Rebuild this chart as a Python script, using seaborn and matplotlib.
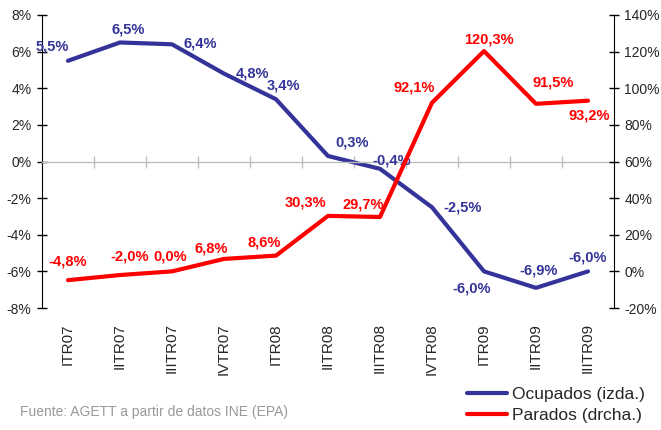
import numpy as np
import pandas as pd
import matplotlib

matplotlib.use("Agg")
import matplotlib.pyplot as plt
import matplotlib.ticker as mticker
import seaborn as sns

periodos = ["ITR07", "IITR07", "IIITR07", "IVTR07", "ITR08", "IITR08",
            "IIITR08", "IVTR08", "ITR09", "IITR09", "IIITR09"]
ocupados = [5.5, 6.5, 6.4, 4.8, 3.4, 0.3, -0.4, -2.5, -6.0, -6.9, -6.0]
parados = [-4.8, -2.0, 0.0, 6.8, 8.6, 30.3, 29.7, 92.1, 120.3, 91.5, 93.2]

# label offsets in pixels (dx, dy) relative to each point
off_ocupados = [(-16, 14), (8, 13), (28, 1), (28, 0), (7, 14), (24, 14),
                (12, 8), (31, 0), (-12, -17), (3, 17), (0, 14)]
off_parados = [(0, 19), (10, 19), (-2, 15), (-13, 10), (-12, 13), (-22, 13),
               (-17, 12), (-18, 15), (5, 12), (17, 21), (1, -15)]

AZUL = "#333399"
ROJO = "#FF0000"
GRIS = "#BFBFBF"

sns.set_style("white")
plt.rcParams["font.family"] = ["Liberation Sans", "DejaVu Sans"]

df = pd.DataFrame({"pos": np.arange(len(periodos)), "periodo": periodos,
                   "Ocupados": ocupados, "Parados": parados})

fig = plt.figure(figsize=(6.61, 4.30), dpi=100)
ax = fig.add_axes([42 / 661, 1 - 308 / 430, (614 - 42) / 661, (308 - 15) / 430])
ax2 = ax.twinx()

sns.lineplot(data=df, x="pos", y="Ocupados", ax=ax, color=AZUL, linewidth=3,
             label="Ocupados (izda.)", legend=False)
sns.lineplot(data=df, x="pos", y="Parados", ax=ax2, color=ROJO, linewidth=3,
             label="Parados (drcha.)", legend=False)

ax.set_xlim(-0.5, len(periodos) - 0.5)
ax.set_ylim(-8, 8)
ax2.set_ylim(-20, 140)
ax.set_yticks(np.arange(-8, 9, 2))
ax2.set_yticks(np.arange(-20, 141, 20))
ax.yaxis.set_major_formatter(mticker.FuncFormatter(lambda v, p: f"{v:.0f}%"))
ax2.yaxis.set_major_formatter(mticker.FuncFormatter(lambda v, p: f"{v:.0f}%"))
ax.set_xlabel("")
ax.set_ylabel("")
ax2.set_ylabel("")

for s in ["top", "right"]:
    ax.spines[s].set_visible(False)
for s in ["top", "bottom", "left"]:
    ax2.spines[s].set_visible(False)
ax.spines["left"].set_color("black")
ax2.spines["right"].set_color("black")
ax.spines["bottom"].set_position(("data", 0))
ax.spines["bottom"].set_color(GRIS)
ax.spines["bottom"].set_linewidth(1)

ax.tick_params(axis="y", direction="inout", length=7, width=1, color="black",
               labelsize=10, pad=4, left=True)
ax2.tick_params(axis="y", direction="inout", length=7, width=1, color="black",
                labelsize=10, pad=4, right=True)

ax.set_xticks(np.arange(len(periodos)))
ax.set_xticks(np.arange(len(periodos) - 1) + 0.5, minor=True)
ax.tick_params(axis="x", which="major", length=0, labelbottom=False)
ax.tick_params(axis="x", which="minor", direction="inout", length=9, width=1,
               color=GRIS, bottom=True)

sec = ax.secondary_xaxis("bottom")
sec.set_xticks(np.arange(len(periodos)))
sec.set_xticklabels(periodos, rotation=90, fontsize=11, va="top")
sec.tick_params(length=0, pad=11)
sec.spines["bottom"].set_visible(False)

def fmt(v):
    return f"{v:.1f}%".replace(".", ",")

for x, v, (dx, dy) in zip(df["pos"], ocupados, off_ocupados):
    ax.annotate(fmt(v), (x, v), xytext=(dx, dy), textcoords="offset pixels",
                ha="center", va="center", color=AZUL, fontsize=10.5,
                fontweight="bold")
for x, v, (dx, dy) in zip(df["pos"], parados, off_parados):
    ax2.annotate(fmt(v), (x, v), xytext=(dx, dy), textcoords="offset pixels",
                 ha="center", va="center", color=ROJO, fontsize=10.5,
                 fontweight="bold")

h1, l1 = ax.get_legend_handles_labels()
h2, l2 = ax2.get_legend_handles_labels()
fig.legend(h1 + h2, l1 + l2, loc="upper left", bbox_to_anchor=(467 / 661, 1 - 387 / 430),
           frameon=False, fontsize=12.5, handlelength=2.3, handletextpad=0.3,
           labelspacing=0.35, borderpad=0, borderaxespad=0)

fig.text(20 / 661, 1 - 412 / 430, "Fuente: AGETT a partir de datos INE (EPA)",
         color="#999999", fontsize=10, va="center", ha="left")

fig.savefig("out.png", dpi=100)
